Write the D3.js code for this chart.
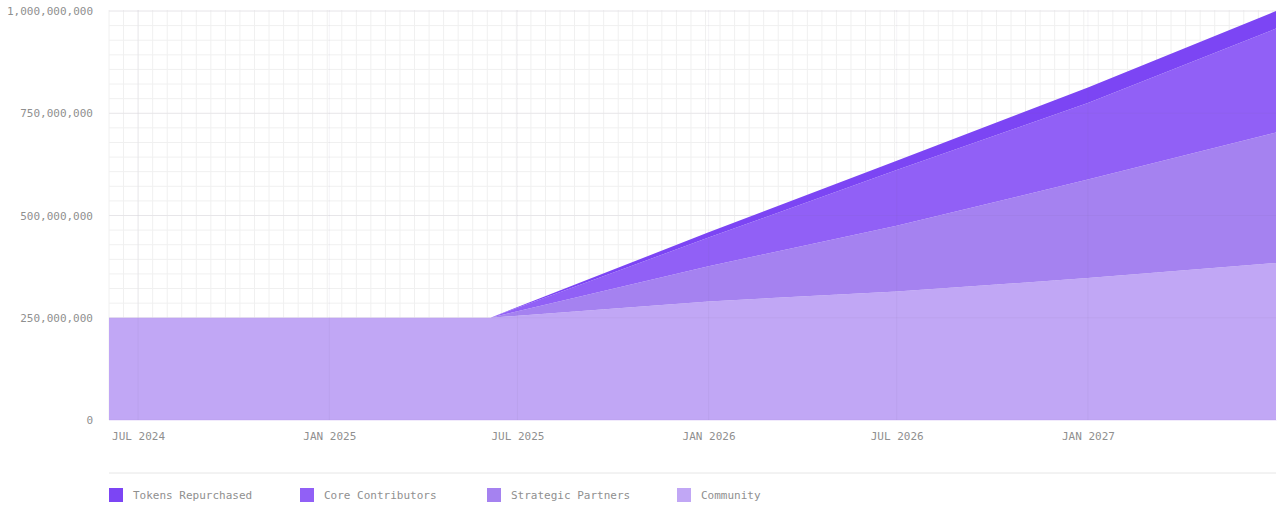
<!DOCTYPE html>
<html>
<head>
<meta charset="utf-8">
<script src="https://cdn.jsdelivr.net/npm/d3@7"></script>
<style>
  body{margin:0;background:#fff;}
  text{font-family:"DejaVu Sans Mono","Liberation Mono",monospace;}
</style>
</head>
<body>
<div id="plot"></div>
<script>
// chart data (values in tokens)
var dates = ["2024-06-03","2025-06-05","2026-01-01","2026-07-01","2027-01-01","2027-07-01"];
var community = [250e6,250e6,290e6,314e6,347e6,384e6];
var strategic = [0,0,86e6,161e6,241e6,319e6];
var core = [0,0,70e6,136e6,187e6,254e6];
var tokens = [0,0,13e6,23e6,38e6,43e6];

var seriesNames = ["Community","Strategic Partners","Core Contributors","Tokens Repurchased"];
var seriesKeys = ["community","strategic","core","tokens"];
var colors = ["#c1a7f5","#a582f0","#9160f6","#7c45f4"];
var yTicks = [0,250e6,500e6,750e6,1000e6];
var xTicks = ["2024-07-01","2025-01-01","2025-07-01","2026-01-01","2026-07-01","2027-01-01"];

var parse = d3.timeParse("%Y-%m-%d");
var rows = dates.map(function(d,i){
    return {date:parse(d),community:community[i],strategic:strategic[i],core:core[i],tokens:tokens[i]};
});

var margin = {t:11,r:4,b:85,l:109};
var W = 1280, H = 505;
var width = W-margin.l-margin.r,
    height = H-margin.t-margin.b;

var svg = d3.select('#plot').append('svg')
    .attr('width',W).attr('height',H);
var plot = svg.append('g')
    .attr('transform','translate('+margin.l+','+margin.t+')');

var x = d3.scaleTime().domain([parse(dates[0]),parse(dates[dates.length-1])]).range([0,width]);
var y = d3.scaleLinear().domain([0,1000e6]).range([height,0]);

// minor grid: every 14 days / every 1B/28
var minor = plot.append('g');
var t0 = parse("2024-07-01");
for(var k=-3;k<100;k++){
    var dd = d3.timeDay.offset(t0,k*14);
    var xx = x(dd);
    if(xx<0||xx>width) continue;
    minor.append('line').attr('x1',xx).attr('x2',xx).attr('y1',-1).attr('y2',height)
        .attr('stroke','#f0f0f0').attr('stroke-width',1);
}
for(var j=0;j<=28;j++){
    var yy = y(1000e6*j/28);
    minor.append('line').attr('x1',0).attr('x2',width).attr('y1',yy).attr('y2',yy)
        .attr('stroke','#f0f0f0').attr('stroke-width',1);
}

// stacked areas
var stack = d3.stack().keys(seriesKeys);
var layers = stack(rows);
var area = d3.area()
    .x(function(d){return x(d.data.date);})
    .y0(function(d){return y(d[0]);})
    .y1(function(d){return y(d[1]);});

plot.selectAll('.layer').data(layers).enter()
    .append('path')
    .attr('class','layer')
    .attr('d',area)
    .style('fill',function(d,i){return colors[i];});

// major grid on top of areas (faint)
plot.append('g').selectAll('line').data(xTicks).enter().append('line')
    .attr('x1',function(d){return x(parse(d));})
    .attr('x2',function(d){return x(parse(d));})
    .attr('y1',-1).attr('y2',height)
    .attr('stroke','rgba(110,100,140,0.07)');
plot.append('g').selectAll('line').data(yTicks).enter().append('line')
    .attr('x1',0).attr('x2',width)
    .attr('y1',function(d){return y(d);})
    .attr('y2',function(d){return y(d);})
    .attr('stroke','rgba(110,100,140,0.07)');

// axes
var yAxis = d3.axisLeft(y).tickValues(yTicks).tickSize(0).tickPadding(16)
    .tickFormat(d3.format(",d"));
var gy = plot.append('g').call(yAxis);
gy.select('.domain').remove();
gy.selectAll('text').style('font-size','11px').style('fill','#8f8f8f')
    .style('font-family','"DejaVu Sans Mono",monospace');

var xAxis = d3.axisBottom(x).tickValues(xTicks.map(parse)).tickSize(0).tickPadding(12)
    .tickFormat(function(d){return d3.timeFormat("%b %Y")(d).toUpperCase();});
var gx = plot.append('g').attr('transform','translate(0,'+height+')').call(xAxis);
gx.select('.domain').attr('stroke','#f1eafc');
gx.selectAll('text').style('font-size','11px').style('fill','#8f8f8f')
    .style('font-family','"DejaVu Sans Mono",monospace');

// legend
svg.append('line').attr('x1',109).attr('x2',1276).attr('y1',473).attr('y2',473)
    .attr('stroke','#e6e6e6');
var legendOrder = [3,2,1,0];
var legendX = [109,300,487,677];
var lg = svg.selectAll('.leg').data(legendOrder).enter().append('g')
    .attr('class','leg')
    .attr('transform',function(d,i){return 'translate('+legendX[i]+',488)';});
lg.append('rect').attr('width',14).attr('height',14)
    .style('fill',function(d){return colors[d];});
lg.append('text').attr('x',24).attr('y',11)
    .style('font-size','11px').style('fill','#8f8f8f')
    .text(function(d){return seriesNames[d];});
</script>
</body>
</html>
